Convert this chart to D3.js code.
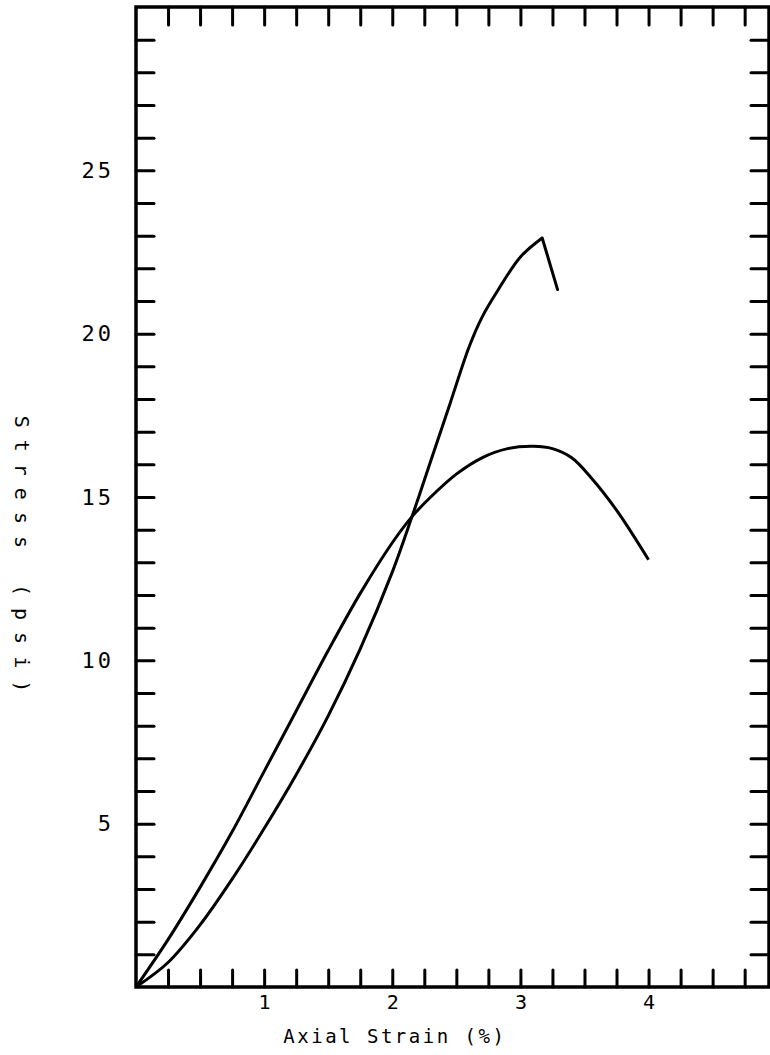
<!DOCTYPE html>
<html>
<head>
<meta charset="utf-8">
<script src="https://cdn.jsdelivr.net/npm/d3@7"></script>
<style>
  html, body { margin: 0; padding: 0; background: #fff; }
  svg { display: block; }
</style>
</head>
<body>
<svg id="chart" width="770" height="1055"></svg>
<script>
// ---- data ----
// Curve A: steeper curve with sharp peak and drop
const strainA = [0, 0.25, 0.5, 0.75, 1.0, 1.25, 1.5, 1.75, 2.0, 2.154, 2.3, 2.45, 2.6, 2.7, 2.82, 3.0, 3.17];
const stressA = [0, 0.75, 1.9, 3.3, 4.85, 6.5, 8.3, 10.35, 12.7, 14.4, 16.1, 17.85, 19.6, 20.5, 21.3, 22.35, 22.93];
const strainAdrop = [3.17, 3.29];
const stressAdrop = [22.93, 21.35];
// Curve B: rounded curve
const strainB = [0, 0.25, 0.5, 0.75, 1.0, 1.25, 1.5, 1.75, 2.0, 2.154, 2.3, 2.5, 2.7, 2.9, 3.1, 3.25, 3.4, 3.55, 3.75, 4.0];
const stressB = [0, 1.45, 3.05, 4.75, 6.6, 8.45, 10.3, 12.05, 13.6, 14.4, 15.0, 15.7, 16.2, 16.48, 16.55, 16.48, 16.2, 15.6, 14.6, 13.08];

const xTickValues = d3.range(1, 20).map(i => i * 0.25);   // 0.25 .. 4.75
const yTickValues = d3.range(1, 30);                      // 1 .. 29
const xTickLabels = [1, 2, 3, 4];
const yTickLabels = [5, 10, 15, 20, 25];
const xTitle = "Axial Strain (%)";
const yTitle = "Stress (psi)";

// ---- layout ----
const svg = d3.select("#chart");
const pLeft = 136, pRight = 769, pTop = 7, pBottom = 987;
const x = d3.scaleLinear().domain([0, 4.94]).range([pLeft, pRight]);
const y = d3.scaleLinear().domain([0, 30]).range([pBottom, pTop]);

const ink = "#000";
const tickLen = 18;

function styleAxis(g) {
  g.select(".domain").remove();
  g.selectAll(".tick line").attr("stroke", ink).attr("stroke-width", 3).attr("stroke-linecap", "round");
}

// left axis
svg.append("g").attr("transform", `translate(${pLeft},0)`)
  .call(d3.axisLeft(y).tickValues(yTickValues).tickSize(-tickLen).tickPadding(22)
    .tickFormat(d => yTickLabels.includes(d) ? d : ""))
  .call(styleAxis)
  .call(g => g.selectAll(".tick text")
    .attr("fill", ink).attr("font-family", "DejaVu Sans Mono, monospace")
    .attr("font-size", 22).attr("letter-spacing", 3));

// right axis
svg.append("g").attr("transform", `translate(${pRight},0)`)
  .call(d3.axisRight(y).tickValues(yTickValues).tickSize(-tickLen).tickFormat(""))
  .call(styleAxis);

// top axis
svg.append("g").attr("transform", `translate(0,${pTop})`)
  .call(d3.axisTop(x).tickValues(xTickValues).tickSize(-tickLen).tickFormat(""))
  .call(styleAxis);

// bottom axis
svg.append("g").attr("transform", `translate(0,${pBottom})`)
  .call(d3.axisBottom(x).tickValues(xTickValues).tickSize(-17).tickPadding(8)
    .tickFormat(d => xTickLabels.includes(d) ? d : ""))
  .call(styleAxis)
  .call(g => g.selectAll(".tick text")
    .attr("fill", ink).attr("font-family", "DejaVu Sans Mono, monospace")
    .attr("font-size", 20));

// frame
svg.append("rect")
  .attr("x", pLeft).attr("y", pTop)
  .attr("width", pRight - pLeft).attr("height", pBottom - pTop)
  .attr("fill", "none").attr("stroke", ink).attr("stroke-width", 3.5);

// curves
const lineSmooth = d3.line().x(d => x(d[0])).y(d => y(d[1])).curve(d3.curveCatmullRom.alpha(0.5));
const lineStraight = d3.line().x(d => x(d[0])).y(d => y(d[1]));

svg.append("path")
  .datum(d3.zip(strainA, stressA))
  .attr("d", lineSmooth)
  .attr("fill", "none").attr("stroke", ink).attr("stroke-width", 3)
  .attr("stroke-linejoin", "round");
svg.append("path")
  .datum(d3.zip(strainAdrop, stressAdrop))
  .attr("d", lineStraight)
  .attr("fill", "none").attr("stroke", ink).attr("stroke-width", 3)
  .attr("stroke-linecap", "round");
svg.append("path")
  .datum(d3.zip(strainB, stressB))
  .attr("d", lineSmooth)
  .attr("fill", "none").attr("stroke", ink).attr("stroke-width", 3)
  .attr("stroke-linejoin", "round");

// axis titles
svg.append("text")
  .attr("x", x(2.02)).attr("y", 1043)
  .attr("text-anchor", "middle")
  .attr("font-family", "DejaVu Sans Mono, monospace")
  .attr("font-size", 19).attr("letter-spacing", 2.5)
  .attr("fill", ink)
  .text(xTitle);

svg.append("text")
  .attr("transform", "translate(15,560) rotate(90)")
  .attr("text-anchor", "middle")
  .attr("font-family", "DejaVu Sans Mono, monospace")
  .attr("font-size", 20).attr("letter-spacing", 12)
  .attr("fill", ink)
  .text(yTitle);
</script>
</body>
</html>
